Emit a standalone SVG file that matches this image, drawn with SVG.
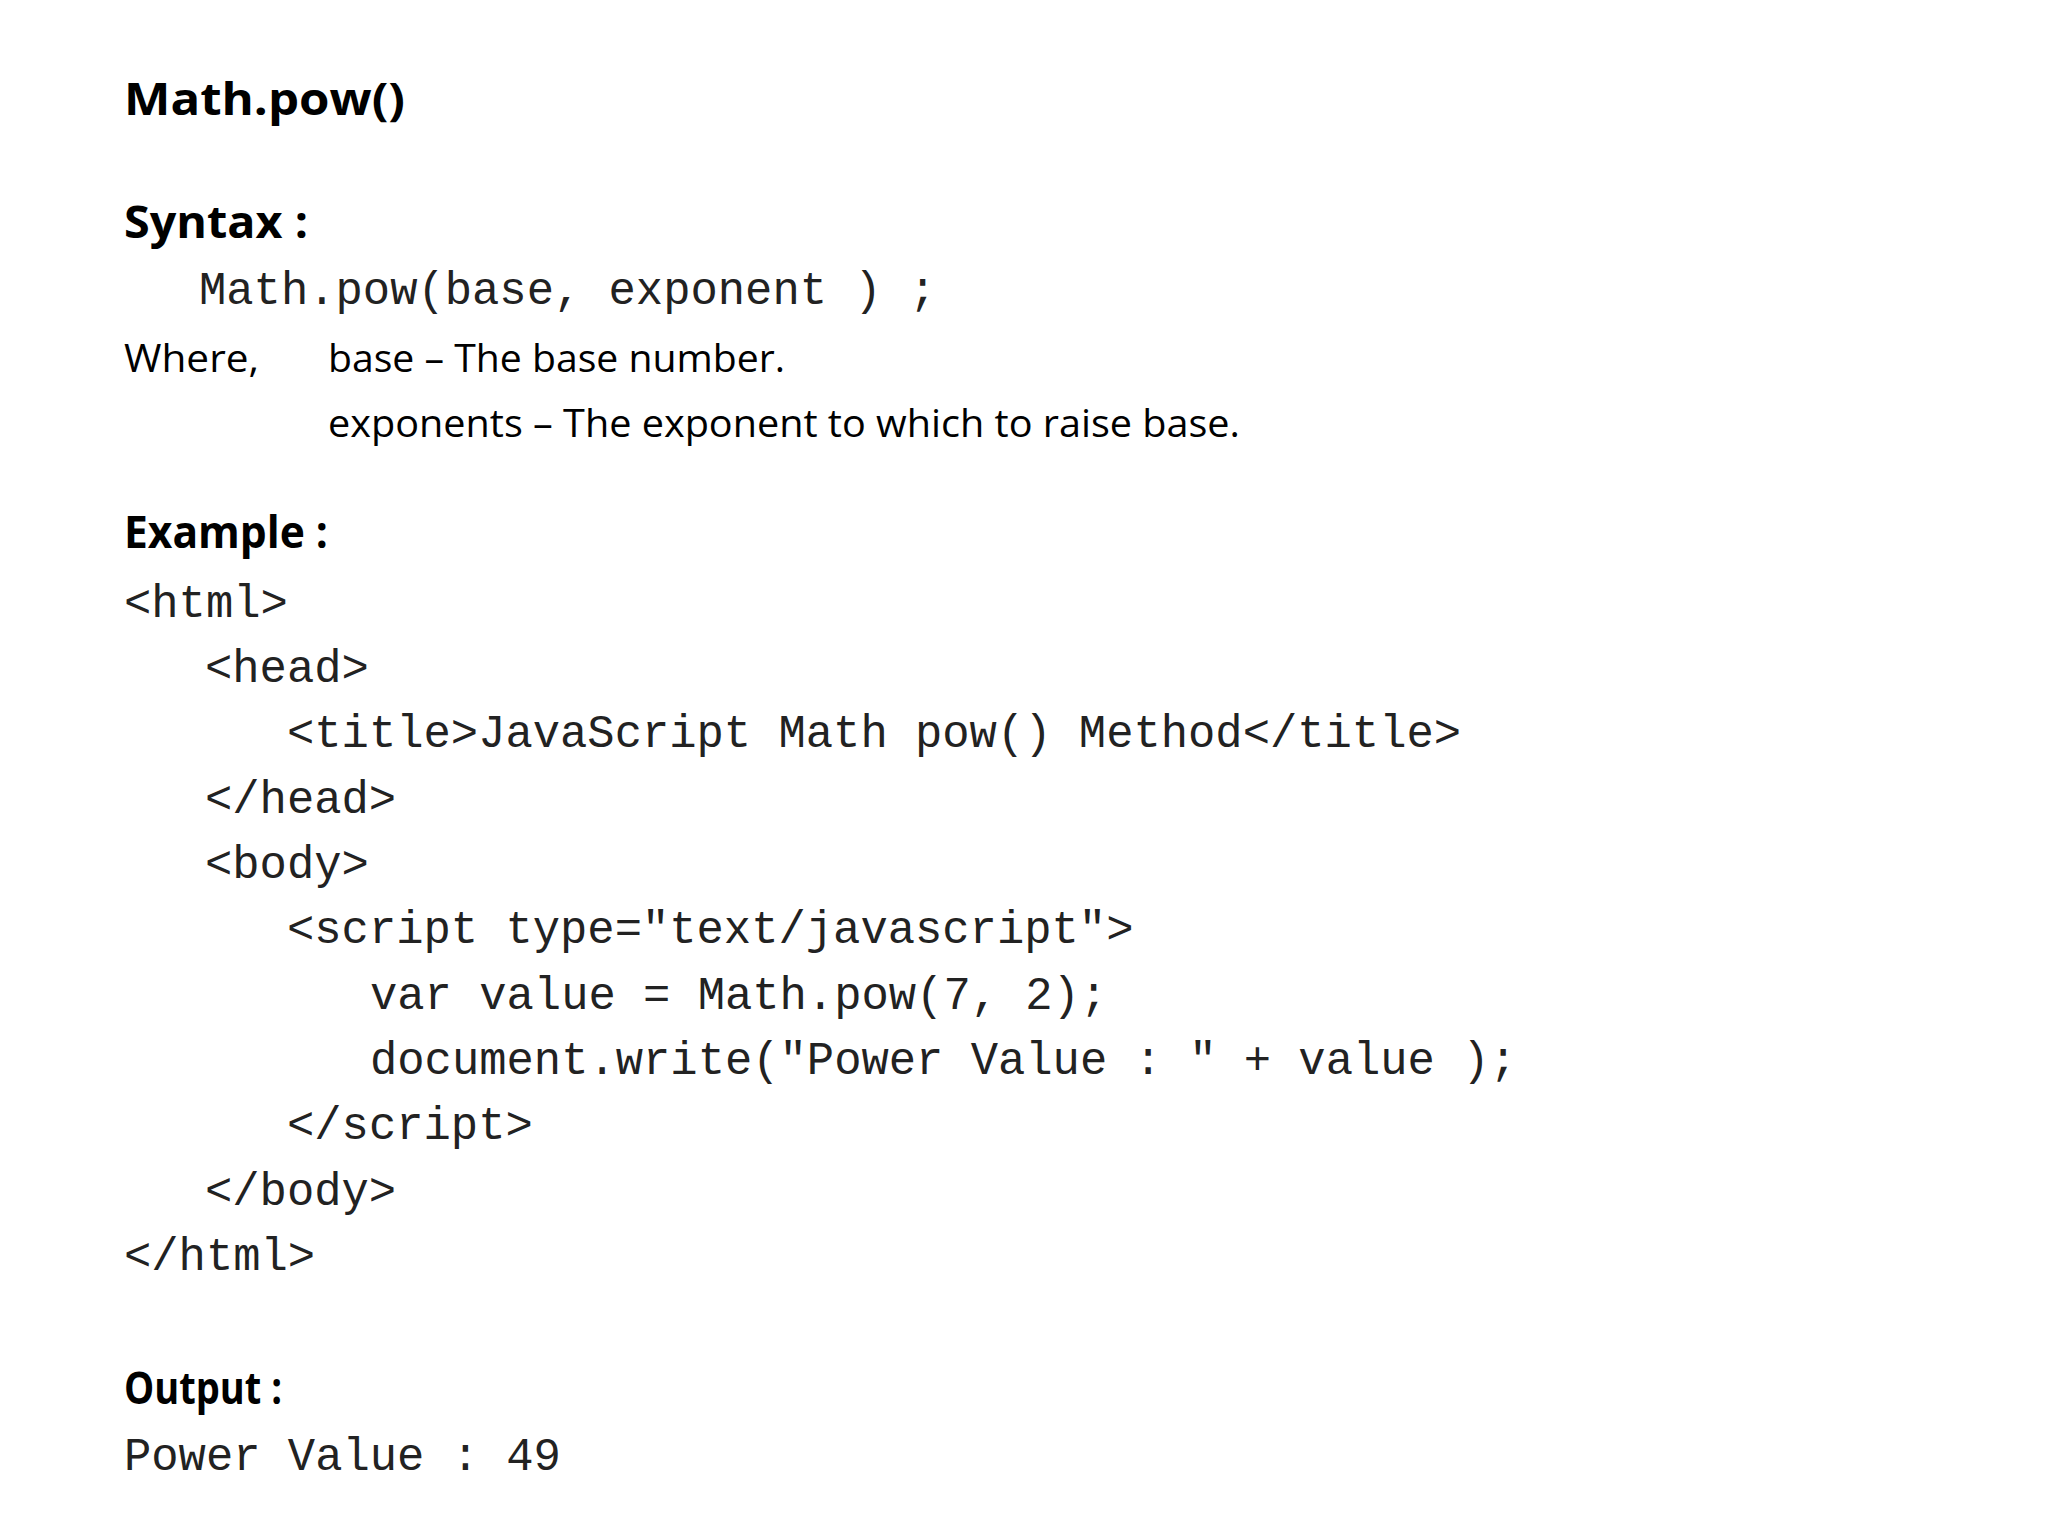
<svg xmlns="http://www.w3.org/2000/svg" width="2048" height="1536" viewBox="0 0 2048 1536">
<style>
.h{font-family:"Open Sans","Liberation Sans",sans-serif;font-weight:bold;font-size:44px;fill:#000}
.t{font-family:"Open Sans","Liberation Sans",sans-serif;font-size:38px;fill:#000}
.c{font-family:"Liberation Mono","Courier New",monospace;font-size:45.5px;fill:#222;white-space:pre}
</style>
<rect width="2048" height="1536" fill="#fff"/>
<text class="h" x="124" y="115" textLength="281" lengthAdjust="spacingAndGlyphs">Math.pow()</text>
<text class="h" x="124" y="238" textLength="184" lengthAdjust="spacingAndGlyphs">Syntax :</text>
<text class="c" x="199" y="304" xml:space="preserve">Math.pow(base, exponent ) ;</text>
<text class="t" x="124" y="372" textLength="135" lengthAdjust="spacingAndGlyphs">Where,</text>
<text class="t" x="328" y="372" textLength="457" lengthAdjust="spacingAndGlyphs">base – The base number.</text>
<text class="t" x="328" y="437" textLength="912" lengthAdjust="spacingAndGlyphs">exponents – The exponent to which to raise base.</text>
<text class="h" x="124" y="548" textLength="204" lengthAdjust="spacingAndGlyphs">Example :</text>
<g xml:space="preserve">
<text class="c" x="124" y="617">&lt;html&gt;</text>
<text class="c" x="205" y="682">&lt;head&gt;</text>
<text class="c" x="287" y="747">&lt;title&gt;JavaScript Math pow() Method&lt;/title&gt;</text>
<text class="c" x="205" y="813">&lt;/head&gt;</text>
<text class="c" x="205" y="878">&lt;body&gt;</text>
<text class="c" x="287" y="943">&lt;script type="text/javascript"&gt;</text>
<text class="c" x="370" y="1009">var value = Math.pow(7, 2);</text>
<text class="c" x="370" y="1074">document.write("Power Value : " + value );</text>
<text class="c" x="287" y="1139">&lt;/script&gt;</text>
<text class="c" x="205" y="1205">&lt;/body&gt;</text>
<text class="c" x="124" y="1270">&lt;/html&gt;</text>
</g>
<text class="h" x="124" y="1404" font-size="40" textLength="158" lengthAdjust="spacingAndGlyphs">Output :</text>
<text class="c" x="124" y="1470" xml:space="preserve">Power Value : 49</text>
</svg>
